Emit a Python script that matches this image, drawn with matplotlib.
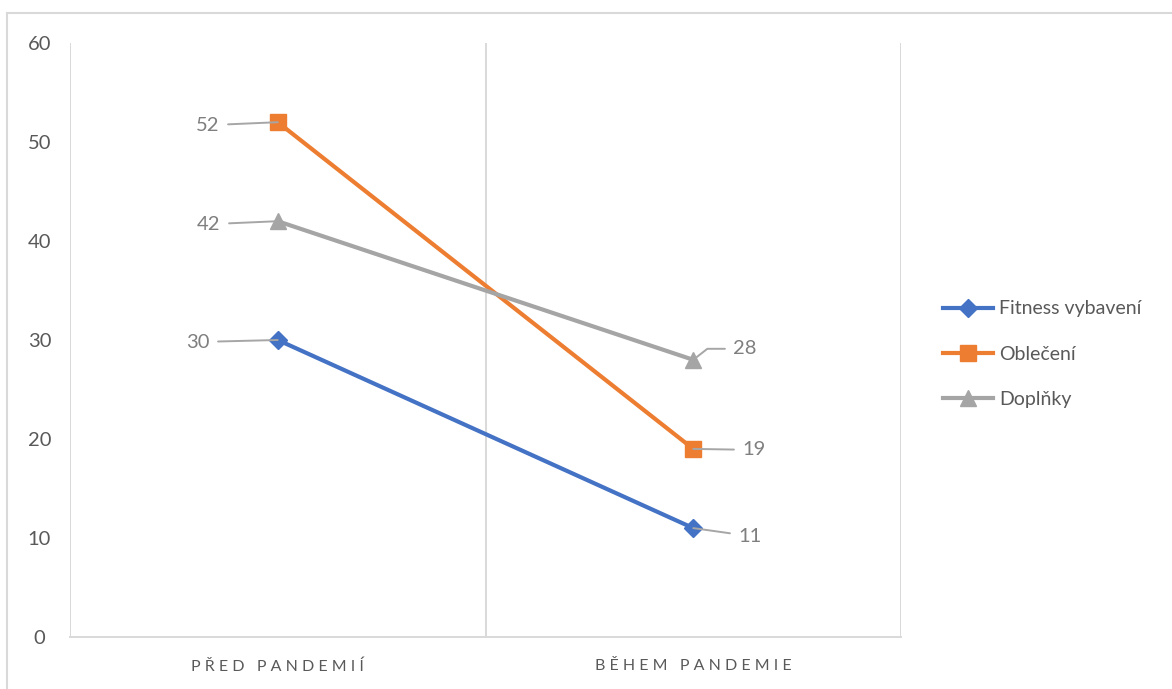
import matplotlib.pyplot as plt
from matplotlib.lines import Line2D

# Dados do gráfico
kategorie = ['PŘED PANDEMIÍ', 'BĚHEM PANDEMIE']
fitness = [30, 11]
obleceni = [52, 19]
doplnky = [42, 28]

serie_nazvy = ['Fitness vybavení', 'Oblečení', 'Doplňky']
serie_hodnoty = [fitness, obleceni, doplnky]
barvy = ['#4472C4', '#ED7D31', '#A5A5A5']
znacky = ['D', 's', '^']
velikosti = [9, 11, 11]

# posun popisků (pixely) pro každý bod: [série][kategorie]
posuny = [[(-68, -2), (45, -8)],
          [(-58, -3), (49, -1)],
          [(-57, -3), (40, 11)]]
spojeni = [['arc3', 'arc3'],
           ['arc3', 'arc3'],
           ['arc3', 'angle,angleA=0,angleB=38,rad=0']]

plt.rcParams['font.family'] = ['Lato', 'DejaVu Sans']

fig = plt.figure(figsize=(11.72, 6.89), dpi=100)
ax = fig.add_axes([70 / 1172, 1 - 637 / 689, 831 / 1172, 594 / 689])

x = list(range(len(kategorie)))
for nazev, hodnoty, barva, znacka, vel in zip(serie_nazvy, serie_hodnoty, barvy, znacky, velikosti):
    ax.plot(x, hodnoty, color=barva, lw=3.0, marker=znacka, markersize=vel,
            label=nazev, zorder=3)

# popisky dat s vodicími čarami
for hodnoty, pos, spoj in zip(serie_hodnoty, posuny, spojeni):
    for i, v in enumerate(hodnoty):
        dx, dy = pos[i]
        ax.annotate(str(v), xy=(i, v), xytext=(dx, dy), textcoords='offset pixels',
                    ha='right' if dx < 0 else 'left', va='center',
                    fontsize=14.5, color='#7F7F7F',
                    arrowprops=dict(arrowstyle='-', color='#A6A6A6', lw=1.4,
                                    shrinkA=4, shrinkB=0, connectionstyle=spoj[i]),
                    zorder=4)

ax.set_xlim(-0.5, 1.5)
ax.set_ylim(0, 60)
ax.set_yticks(range(0, 61, 10))
ax.set_xticks(x)
ax.set_xticklabels(['   '.join(' '.join(slovo) for slovo in k.split(' ')) for k in kategorie],
                   fontsize=11.5, color='#595959')
ax.tick_params(axis='y', labelsize=14.5, labelcolor='#595959', length=0, pad=22)
ax.tick_params(axis='x', length=0, pad=16)

for s in ['top', 'right', 'left']:
    ax.spines[s].set_visible(False)
ax.spines['bottom'].set_color('#D9D9D9')
ax.spines['bottom'].set_linewidth(1.4)

# svislé čáry mezi kategoriemi
for xv in [-0.5, 0.5, 1.5]:
    ax.axvline(xv, color='#D9D9D9', lw=1.4, zorder=1)

for lab in ax.get_yticklabels():
    lab.set_horizontalalignment('center')

leg = fig.legend(loc='center left', bbox_to_anchor=(925 / 1172, 1 - 354 / 689),
                 frameon=False, fontsize=14, handlelength=2.6, handletextpad=0.3,
                 labelspacing=1.45)
for t in leg.get_texts():
    t.set_color('#595959')

# rámeček grafu
fig.add_artist(Line2D([7 / 1172, 1], [1 - 13 / 689, 1 - 13 / 689], color='#D9D9D9', lw=1.5))
fig.add_artist(Line2D([7 / 1172, 7 / 1172], [0, 1 - 13 / 689], color='#D9D9D9', lw=1.5))

fig.savefig('out.png', dpi=100, facecolor='white')
